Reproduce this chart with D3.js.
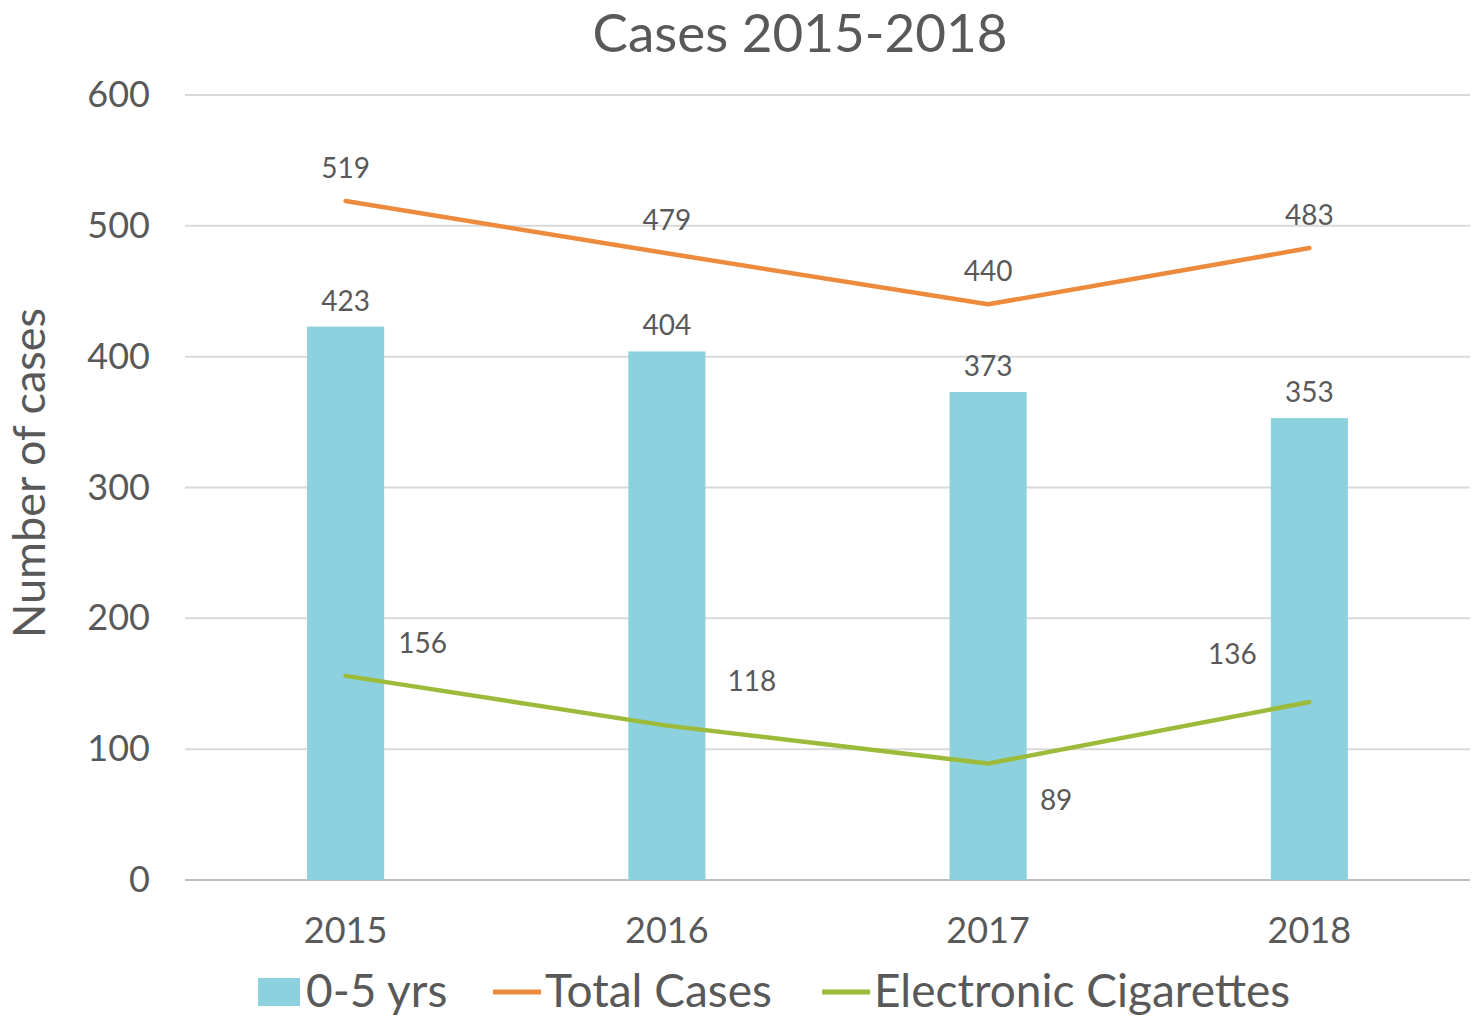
<!DOCTYPE html>
<html>
<head>
<meta charset="utf-8">
<script src="https://cdn.jsdelivr.net/npm/d3@7"></script>
<style>
  body { margin: 0; background: #fff; }
  svg text { font-family: Lato, "Open Sans", sans-serif; fill: #595959; }
</style>
</head>
<body>
<svg id="chart" width="1479" height="1018"></svg>
<script>
const years = ['2015', '2016', '2017', '2018'];
const ageCases = [423, 404, 373, 353];
const totalCases = [519, 479, 440, 483];
const eCigCases = [156, 118, 89, 136];
const yTicks = [0, 100, 200, 300, 400, 500, 600];

const colors = { bar: '#8dd0de', total: '#ee8a3c', ecig: '#9cbb3b', grid: '#d9d9d9', text: '#595959' };

const svg = d3.select('#chart');
const margin = { top: 95, right: 9, bottom: 138, left: 185 };
const width = 1479 - margin.left - margin.right;
const height = 1018 - margin.top - margin.bottom;

const g = svg.append('g').attr('transform', `translate(${margin.left},${margin.top})`);

const x = d3.scaleBand().domain(years).range([0, width]).paddingInner(0.76).paddingOuter(0.38);
const y = d3.scaleLinear().domain([0, 600]).range([height, 0]);
const cx = d => x(d) + x.bandwidth() / 2;

// title
svg.append('text')
  .attr('x', 800).attr('y', 52)
  .attr('text-anchor', 'middle')
  .style('font-size', '53px')
  .text('Cases 2015-2018');

// gridlines
g.selectAll('.grid').data(yTicks).join('line')
  .attr('x1', 0).attr('x2', width)
  .attr('y1', d => y(d)).attr('y2', d => y(d))
  .attr('stroke', d => d === 0 ? '#bfbfbf' : colors.grid)
  .attr('stroke-width', 2);

// y axis
const yAxis = g.append('g').call(d3.axisLeft(y).tickValues(yTicks).tickSize(0).tickPadding(35));
yAxis.select('.domain').remove();
yAxis.selectAll('text').style('font-size', '36px').attr('fill', colors.text);

// x axis
const xAxis = g.append('g').attr('transform', `translate(0,${height})`)
  .call(d3.axisBottom(x).tickSize(0).tickPadding(37));
xAxis.select('.domain').remove();
xAxis.selectAll('text').style('font-size', '36px').attr('fill', colors.text);

// y axis title
svg.append('text')
  .attr('transform', 'translate(45,473) rotate(-90)')
  .attr('text-anchor', 'middle')
  .style('font-size', '45px')
  .text('Number of cases');

// bars
g.selectAll('.bar').data(years).join('rect')
  .attr('x', d => x(d))
  .attr('width', x.bandwidth())
  .attr('y', (d, i) => y(ageCases[i]))
  .attr('height', (d, i) => height - y(ageCases[i]))
  .attr('fill', colors.bar);

g.selectAll('.bar-label').data(years).join('text')
  .attr('x', d => cx(d))
  .attr('y', (d, i) => y(ageCases[i]) - 16)
  .attr('text-anchor', 'middle')
  .style('font-size', '28px')
  .text((d, i) => ageCases[i]);

// lines
const line = d3.line().x(d => cx(d[0])).y(d => y(d[1]));

g.append('path')
  .datum(years.map((d, i) => [d, totalCases[i]]))
  .attr('d', line)
  .attr('fill', 'none')
  .attr('stroke', colors.total)
  .attr('stroke-width', 4.5)
  .attr('stroke-linecap', 'round')
  .attr('stroke-linejoin', 'round');

g.selectAll('.total-label').data(years).join('text')
  .attr('x', d => cx(d))
  .attr('y', (d, i) => y(totalCases[i]) - 23)
  .attr('text-anchor', 'middle')
  .style('font-size', '28px')
  .text((d, i) => totalCases[i]);

g.append('path')
  .datum(years.map((d, i) => [d, eCigCases[i]]))
  .attr('d', line)
  .attr('fill', 'none')
  .attr('stroke', colors.ecig)
  .attr('stroke-width', 4.5)
  .attr('stroke-linecap', 'round')
  .attr('stroke-linejoin', 'round');

// e-cig labels sit where Excel put them (right / right / below-right / left)
const ecigOffsets = [[77, -30], [85, -42], [68, 39], [-77, -45]];
g.selectAll('.ecig-label').data(years).join('text')
  .attr('x', (d, i) => cx(d) + ecigOffsets[i][0])
  .attr('y', (d, i) => y(eCigCases[i]) + ecigOffsets[i][1])
  .attr('text-anchor', 'middle')
  .attr('dominant-baseline', 'middle')
  .style('font-size', '28px')
  .text((d, i) => eCigCases[i]);

// legend
const legend = svg.append('g').attr('transform', 'translate(258,992)');
legend.append('rect').attr('x', 0).attr('y', -14).attr('width', 42).attr('height', 28).attr('fill', colors.bar);
legend.append('text').attr('x', 48).attr('y', 15).style('font-size', '46px').text('0-5 yrs');
legend.append('line').attr('x1', 235).attr('x2', 283).attr('y1', 0).attr('y2', 0)
  .attr('stroke', colors.total).attr('stroke-width', 5);
legend.append('text').attr('x', 287).attr('y', 15).style('font-size', '46px').text('Total Cases');
legend.append('line').attr('x1', 564).attr('x2', 612).attr('y1', 0).attr('y2', 0)
  .attr('stroke', colors.ecig).attr('stroke-width', 5);
legend.append('text').attr('x', 616).attr('y', 15).style('font-size', '46px').text('Electronic Cigarettes');
</script>
</body>
</html>
